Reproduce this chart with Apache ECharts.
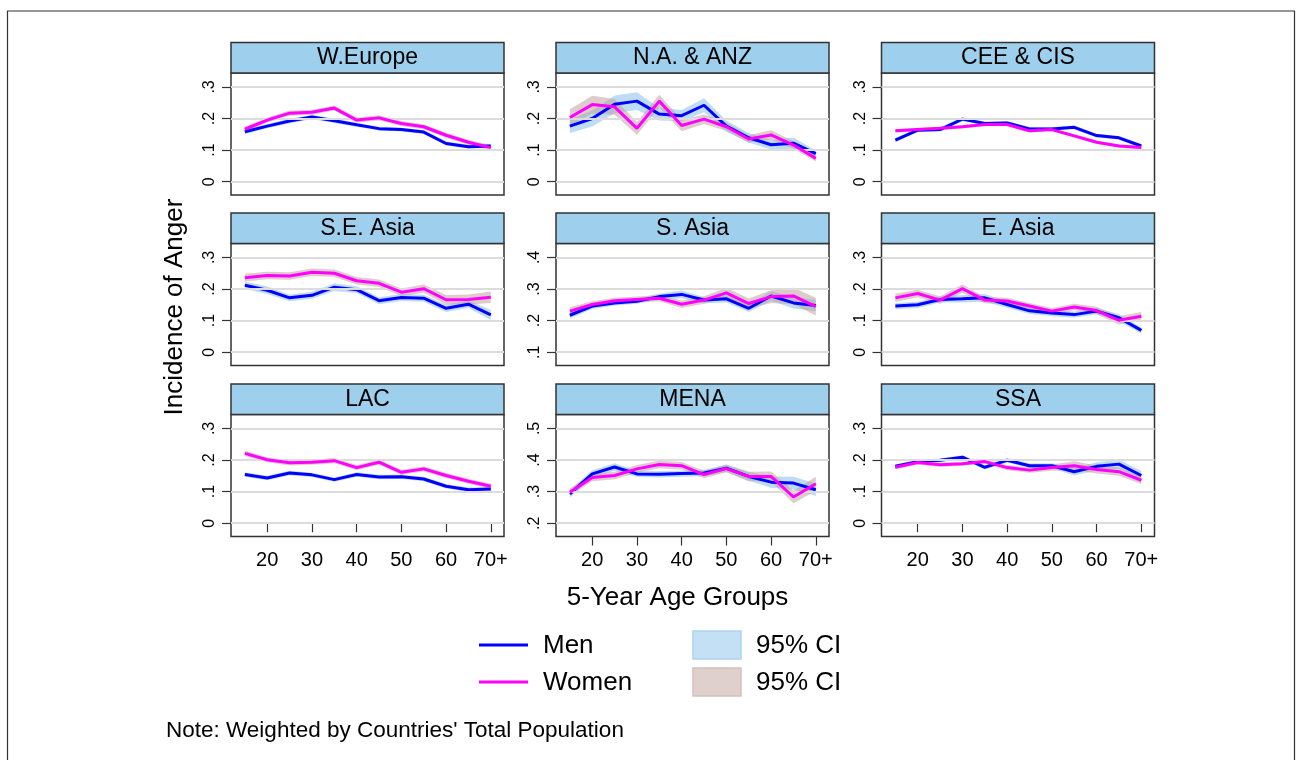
<!DOCTYPE html>
<html><head><meta charset="utf-8">
<script src="https://cdn.jsdelivr.net/npm/echarts@6/dist/echarts.min.js"></script>
<style>html,body{margin:0;padding:0;background:#fff}#c{width:1302px;height:760px}</style>
</head><body><div id="c"></div><script>
// ---------- data ----------
const ages = [15, 20, 25, 30, 35, 40, 45, 50, 55, 60, 65, 70];
const xTickValues = [20, 30, 40, 50, 60, 70];
const xTickLabels = ['20', '30', '40', '50', '60', '70+'];
const regions = ['W.Europe', 'N.A. & ANZ', 'CEE & CIS', 'S.E. Asia', 'S. Asia', 'E. Asia', 'LAC', 'MENA', 'SSA'];
const yTicksStd = [0, 0.1, 0.2, 0.3];
const yTicksSAsia = [0.1, 0.2, 0.3, 0.4];
const yTicksMENA = [0.2, 0.3, 0.4, 0.5];
const yTickLabelsStd = ['0', '.1', '.2', '.3'];
const yTickLabelsSAsia = ['.1', '.2', '.3', '.4'];
const yTickLabelsMENA = ['.2', '.3', '.4', '.5'];

const weuMen     = [0.158, 0.176, 0.192, 0.205, 0.193, 0.180, 0.168, 0.165, 0.157, 0.121, 0.111, 0.113];
const weuWomen   = [0.166, 0.195, 0.217, 0.220, 0.233, 0.195, 0.202, 0.184, 0.174, 0.147, 0.125, 0.108];
const weuMenCI   = [0.008, 0.007, 0.007, 0.007, 0.007, 0.006, 0.006, 0.006, 0.006, 0.006, 0.006, 0.007];
const weuWomenCI = [0.009, 0.008, 0.008, 0.008, 0.008, 0.008, 0.008, 0.008, 0.008, 0.008, 0.008, 0.008];

const naMen     = [0.176, 0.200, 0.245, 0.255, 0.214, 0.209, 0.242, 0.176, 0.139, 0.117, 0.122, 0.089];
const naWomen   = [0.203, 0.244, 0.237, 0.169, 0.255, 0.178, 0.198, 0.174, 0.135, 0.148, 0.116, 0.074];
const naMenCI   = [0.022, 0.025, 0.028, 0.028, 0.020, 0.018, 0.022, 0.018, 0.015, 0.015, 0.018, 0.010];
const naWomenCI = [0.026, 0.028, 0.025, 0.020, 0.020, 0.018, 0.015, 0.013, 0.012, 0.015, 0.012, 0.010];

const ceeMen     = [0.132, 0.163, 0.165, 0.198, 0.184, 0.186, 0.167, 0.167, 0.172, 0.146, 0.139, 0.113];
const ceeWomen   = [0.161, 0.165, 0.169, 0.174, 0.181, 0.181, 0.161, 0.165, 0.145, 0.125, 0.113, 0.108];
const ceeMenCI   = [0.006, 0.006, 0.006, 0.006, 0.006, 0.006, 0.006, 0.006, 0.006, 0.006, 0.006, 0.006];
const ceeWomenCI = [0.005, 0.005, 0.005, 0.005, 0.005, 0.005, 0.005, 0.005, 0.005, 0.005, 0.005, 0.005];

const seaMen     = [0.212, 0.196, 0.172, 0.180, 0.206, 0.198, 0.163, 0.173, 0.171, 0.139, 0.152, 0.118];
const seaWomen   = [0.236, 0.243, 0.241, 0.253, 0.250, 0.226, 0.218, 0.190, 0.201, 0.166, 0.167, 0.174];
const seaMenCI   = [0.012, 0.012, 0.011, 0.011, 0.012, 0.011, 0.011, 0.011, 0.011, 0.012, 0.012, 0.016];
const seaWomenCI = [0.012, 0.012, 0.012, 0.012, 0.012, 0.012, 0.012, 0.012, 0.013, 0.015, 0.016, 0.018];

const saMen     = [0.217, 0.246, 0.256, 0.261, 0.276, 0.283, 0.265, 0.269, 0.239, 0.278, 0.256, 0.248];
const saWomen   = [0.230, 0.251, 0.263, 0.267, 0.271, 0.252, 0.265, 0.288, 0.254, 0.276, 0.278, 0.244];
const saMenCI   = [0.010, 0.009, 0.008, 0.008, 0.010, 0.012, 0.010, 0.012, 0.012, 0.015, 0.018, 0.018];
const saWomenCI = [0.012, 0.010, 0.009, 0.009, 0.010, 0.012, 0.012, 0.016, 0.016, 0.020, 0.026, 0.028];

const eaMen     = [0.146, 0.150, 0.167, 0.169, 0.172, 0.151, 0.131, 0.124, 0.119, 0.130, 0.109, 0.069];
const eaWomen   = [0.172, 0.186, 0.165, 0.201, 0.165, 0.162, 0.146, 0.130, 0.143, 0.132, 0.101, 0.114];
const eaMenCI   = [0.010, 0.010, 0.010, 0.012, 0.012, 0.010, 0.010, 0.010, 0.010, 0.010, 0.012, 0.010];
const eaWomenCI = [0.013, 0.012, 0.012, 0.013, 0.010, 0.010, 0.010, 0.010, 0.010, 0.012, 0.013, 0.013];

const lacMen     = [0.154, 0.143, 0.159, 0.153, 0.138, 0.154, 0.146, 0.147, 0.140, 0.117, 0.106, 0.108];
const lacWomen   = [0.221, 0.201, 0.191, 0.193, 0.198, 0.176, 0.193, 0.161, 0.172, 0.151, 0.133, 0.117];
const lacMenCI   = [0.007, 0.007, 0.007, 0.007, 0.007, 0.007, 0.007, 0.007, 0.007, 0.007, 0.007, 0.007];
const lacWomenCI = [0.008, 0.008, 0.008, 0.008, 0.008, 0.008, 0.008, 0.008, 0.008, 0.008, 0.008, 0.008];

const menaMen     = [0.293, 0.356, 0.378, 0.356, 0.355, 0.357, 0.359, 0.374, 0.348, 0.330, 0.327, 0.306];
const menaWomen   = [0.298, 0.345, 0.351, 0.372, 0.386, 0.382, 0.354, 0.373, 0.348, 0.348, 0.283, 0.325];
const menaMenCI   = [0.012, 0.012, 0.012, 0.010, 0.010, 0.010, 0.010, 0.012, 0.014, 0.018, 0.020, 0.020];
const menaWomenCI = [0.012, 0.012, 0.012, 0.012, 0.012, 0.012, 0.012, 0.012, 0.015, 0.016, 0.020, 0.022];

const ssaMen     = [0.180, 0.195, 0.199, 0.209, 0.177, 0.199, 0.182, 0.182, 0.163, 0.180, 0.187, 0.151];
const ssaWomen   = [0.177, 0.192, 0.185, 0.188, 0.195, 0.176, 0.168, 0.176, 0.182, 0.170, 0.163, 0.136];
const ssaMenCI   = [0.006, 0.006, 0.006, 0.006, 0.006, 0.007, 0.007, 0.008, 0.012, 0.013, 0.014, 0.014];
const ssaWomenCI = [0.006, 0.006, 0.006, 0.006, 0.006, 0.008, 0.008, 0.010, 0.014, 0.013, 0.013, 0.012];

// ---------- build ----------
const panels = [
  {men: weuMen, women: weuWomen, mci: weuMenCI, wci: weuWomenCI, ticks: yTicksStd, labels: yTickLabelsStd},
  {men: naMen, women: naWomen, mci: naMenCI, wci: naWomenCI, ticks: yTicksStd, labels: yTickLabelsStd},
  {men: ceeMen, women: ceeWomen, mci: ceeMenCI, wci: ceeWomenCI, ticks: yTicksStd, labels: yTickLabelsStd},
  {men: seaMen, women: seaWomen, mci: seaMenCI, wci: seaWomenCI, ticks: yTicksStd, labels: yTickLabelsStd},
  {men: saMen, women: saWomen, mci: saMenCI, wci: saWomenCI, ticks: yTicksSAsia, labels: yTickLabelsSAsia},
  {men: eaMen, women: eaWomen, mci: eaMenCI, wci: eaWomenCI, ticks: yTicksStd, labels: yTickLabelsStd},
  {men: lacMen, women: lacWomen, mci: lacMenCI, wci: lacWomenCI, ticks: yTicksStd, labels: yTickLabelsStd},
  {men: menaMen, women: menaWomen, mci: menaMenCI, wci: menaWomenCI, ticks: yTicksMENA, labels: yTickLabelsMENA},
  {men: ssaMen, women: ssaWomen, mci: ssaMenCI, wci: ssaWomenCI, ticks: yTicksStd, labels: yTickLabelsStd}
];

const FONT = '"Liberation Sans", Arial, Helvetica, sans-serif';
const colLeft = [231, 556, 881.5];
const rowTop = [73, 243.5, 414.5];
const PW = 273, PH = 122, STRIP = 30.5;
const BLUE = '#0000ff', MAG = '#ff00ff';
const BAND_M = 'rgba(125,188,236,0.5)';
const BAND_W = 'rgba(188,155,150,0.5)';

const grids = [], xAxes = [], yAxes = [], series = [], graphics = [];

function bandSeries(i, mean, ci, fill, z) {
  const data = ages.map((a, k) => [a, mean[k] - ci[k], mean[k] + ci[k]]);
  return {
    type: 'custom', xAxisIndex: i, yAxisIndex: i, silent: true, z: z,
    encode: {x: 0, y: [1, 2]}, data: data,
    renderItem: (params, api) => {
      if (params.dataIndex !== 0) return null;
      const pts = [];
      for (let k = 0; k < data.length; k++) pts.push(api.coord([data[k][0], data[k][1]]));
      for (let k = data.length - 1; k >= 0; k--) pts.push(api.coord([data[k][0], data[k][2]]));
      return {type: 'polygon', shape: {points: pts}, style: {fill: fill, stroke: null}};
    }
  };
}

panels.forEach((p, i) => {
  const r = Math.floor(i / 3), c = i % 3;
  const bottomRow = r === 2;
  grids.push({left: colLeft[c], top: rowTop[r], width: PW, height: PH, show: true,
    backgroundColor: '#fff', borderColor: '#333', borderWidth: 1.5, containLabel: false});
  xAxes.push({type: 'value', gridIndex: i, min: 11.9, max: 72.95,
    axisLine: {show: false}, splitLine: {show: false},
    axisTick: {show: bottomRow, inside: false, length: 9, lineStyle: {color: '#333', width: 1.2}, customValues: xTickValues},
    axisLabel: {show: bottomRow, customValues: xTickValues, margin: 14,
      fontFamily: FONT, fontSize: 20, color: '#000',
      formatter: v => xTickLabels[xTickValues.indexOf(Math.round(v))] || ''}});
  const t = p.ticks;
  yAxes.push({type: 'value', gridIndex: i, min: t[0] - 0.042, max: t[t.length - 1] + 0.044,
    axisLine: {show: false}, splitLine: {show: false},
    axisTick: {show: true, inside: false, length: 9, lineStyle: {color: '#333', width: 1.2}, customValues: t},
    axisLabel: {show: true, customValues: t, rotate: 90, margin: 13,
      fontFamily: FONT, fontSize: 16, color: '#000',
      formatter: v => { let k = t.findIndex(x => Math.abs(x - v) < 1e-6); return k >= 0 ? p.labels[k] : ''; }}});
  const base = {xAxisIndex: i, yAxisIndex: i, type: 'line', showSymbol: false, symbol: 'none', silent: true};
  // gridlines carrier (invisible line)
  series.push(Object.assign({}, base, {data: ages.map((a, k) => [a, p.men[k]]), z: 0,
    lineStyle: {opacity: 0},
    markLine: {silent: true, symbol: ['none', 'none'], label: {show: false}, animation: false,
      lineStyle: {color: '#dcdcdc', width: 2, type: 'solid'}, data: t.map(v => ({yAxis: v}))}}));
  series.push(bandSeries(i, p.men, p.mci, BAND_M, 2));
  series.push(bandSeries(i, p.women, p.wci, BAND_W, 3));
  series.push(Object.assign({}, base, {data: ages.map((a, k) => [a, p.men[k]]), z: 4,
    lineStyle: {color: BLUE, width: 3}}));
  series.push(Object.assign({}, base, {data: ages.map((a, k) => [a, p.women[k]]), z: 5,
    lineStyle: {color: MAG, width: 3}}));
  // strip
  graphics.push({type: 'rect', z: 10,
    shape: {x: colLeft[c], y: rowTop[r] - STRIP, width: PW, height: STRIP},
    style: {fill: '#9ecfec', stroke: '#333', lineWidth: 1.5}});
  graphics.push({type: 'text', x: colLeft[c] + PW / 2, y: rowTop[r] - STRIP / 2, z: 11,
    style: {text: regions[i], fill: '#000', font: '23px ' + FONT, textAlign: 'center', textVerticalAlign: 'middle'}});
});

// frame, titles, legend, note
graphics.push({type: 'rect', z: 0, silent: true,
  shape: {x: 7.5, y: 11, width: 1287, height: 760}, style: {fill: 'none', stroke: '#333', lineWidth: 1.2}});
graphics.push({type: 'text', x: 175, y: 307, rotation: Math.PI / 2, z: 11,
  style: {text: 'Incidence of Anger', fill: '#000', font: '26px ' + FONT, textAlign: 'center', textVerticalAlign: 'middle'}});
graphics.push({type: 'text', x: 677.5, y: 598, z: 11,
  style: {text: '5-Year Age Groups', fill: '#000', font: '26px ' + FONT, textAlign: 'center', textVerticalAlign: 'middle'}});
graphics.push({type: 'line', z: 11, shape: {x1: 479, y1: 645, x2: 528, y2: 645}, style: {stroke: BLUE, lineWidth: 3}});
graphics.push({type: 'line', z: 11, shape: {x1: 479, y1: 682, x2: 528, y2: 682}, style: {stroke: MAG, lineWidth: 3}});
graphics.push({type: 'text', x: 543, y: 646, z: 11,
  style: {text: 'Men', fill: '#000', font: '26px ' + FONT, textAlign: 'left', textVerticalAlign: 'middle'}});
graphics.push({type: 'text', x: 543, y: 683, z: 11,
  style: {text: 'Women', fill: '#000', font: '26px ' + FONT, textAlign: 'left', textVerticalAlign: 'middle'}});
graphics.push({type: 'rect', z: 11, shape: {x: 693, y: 631, width: 48, height: 28},
  style: {fill: '#c3e0f4', stroke: '#aed3ee', lineWidth: 1.5}});
graphics.push({type: 'rect', z: 11, shape: {x: 693, y: 668, width: 48, height: 28},
  style: {fill: '#e0d0cd', stroke: '#d3c0bc', lineWidth: 1.5}});
graphics.push({type: 'text', x: 756, y: 646, z: 11,
  style: {text: '95% CI', fill: '#000', font: '26px ' + FONT, textAlign: 'left', textVerticalAlign: 'middle'}});
graphics.push({type: 'text', x: 756, y: 683, z: 11,
  style: {text: '95% CI', fill: '#000', font: '26px ' + FONT, textAlign: 'left', textVerticalAlign: 'middle'}});
graphics.push({type: 'text', x: 166, y: 731, z: 11,
  style: {text: "Note: Weighted by Countries' Total Population", fill: '#000', font: '22.5px ' + FONT, textAlign: 'left', textVerticalAlign: 'middle'}});

const chart = echarts.init(document.getElementById('c'), null, {renderer: 'canvas'});
chart.setOption({
  animation: false,
  backgroundColor: '#fff',
  grid: grids, xAxis: xAxes, yAxis: yAxes, series: series, graphic: graphics
});
</script></body></html>
